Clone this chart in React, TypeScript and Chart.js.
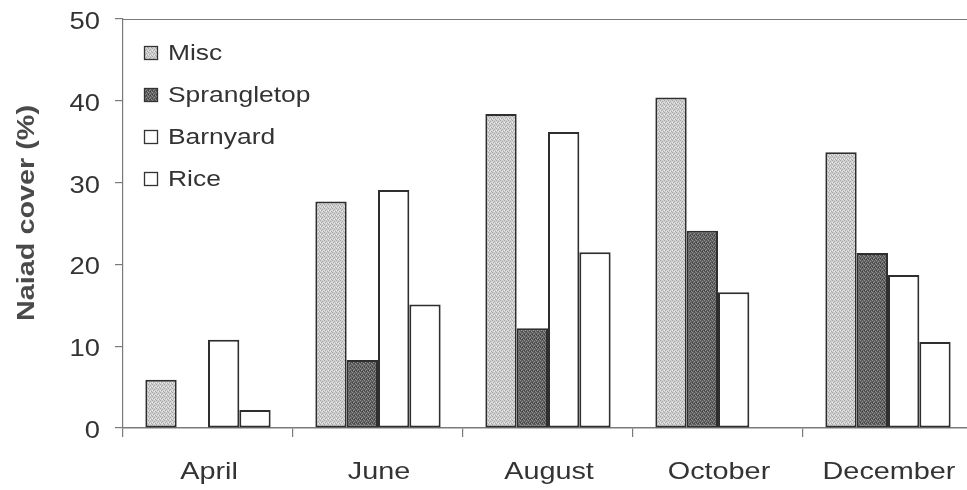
import React, { useEffect, useRef } from "react";
import { Chart, registerables } from "chart.js";

Chart.register(...registerables);

const categories = ["April", "June", "August", "October", "December"];
const seriesNames = ["Misc", "Sprangletop", "Barnyard", "Rice"];
const miscValues = [5.9, 27.7, 38.4, 40.4, 33.7];
const sprangletopValues = [null, 8.3, 12.2, 24.1, 21.4];
const barnyardValues = [10.8, 29.1, 36.2, 16.6, 18.7];
const riceValues = [2.2, 15.1, 21.5, null, 10.5];
const yTicks = [0, 10, 20, 30, 40, 50];
const yTitle = "Naiad cover (%)";

const FONT = "'Liberation Sans', Arial, sans-serif";
const STRETCH = 1.2;
const CANVAS_W = 975;

function makePattern(base: string, speck: string, speck2: string): CanvasPattern | string {
  const c = document.createElement("canvas");
  c.width = 4;
  c.height = 4;
  const g = c.getContext("2d");
  if (!g) return base;
  g.fillStyle = base;
  g.fillRect(0, 0, 4, 4);
  g.fillStyle = speck;
  const pts1 = [[0, 0], [2, 1], [1, 2], [3, 3]];
  pts1.forEach(([x, y]) => g.fillRect(x, y, 1, 1));
  g.fillStyle = speck2;
  const pts2 = [[2, 3], [0, 2]];
  pts2.forEach(([x, y]) => g.fillRect(x, y, 1, 1));
  const p = g.createPattern(c, "repeat");
  return p || base;
}

function wideText(
  ctx: CanvasRenderingContext2D,
  text: string,
  x: number,
  y: number,
  align: CanvasTextAlign,
  sx: number
) {
  ctx.save();
  ctx.translate(x, y);
  ctx.scale(sx, 1);
  ctx.textAlign = align;
  ctx.fillText(text, 0, 0);
  ctx.restore();
}

export default function App() {
  const ref = useRef<HTMLCanvasElement | null>(null);

  useEffect(() => {
    const canvas = ref.current;
    if (!canvas) return;
    const lightFill = makePattern("#d0d0d0", "#a6a6a6", "#ececec");
    const darkFill = makePattern("#5e5e5e", "#8f8f8f", "#404040");
    const fills = [lightFill, darkFill, "#ffffff", "#ffffff"];
    const values = [miscValues, sprangletopValues, barnyardValues, riceValues];

    const decor = {
      id: "decor",
      afterDraw(chart: any) {
        const ctx = chart.ctx as CanvasRenderingContext2D;
        const area = chart.chartArea;
        const xs = chart.scales.x;
        const ys = chart.scales.y;
        ctx.save();
        // top frame line
        ctx.strokeStyle = "#7a7a7a";
        ctx.lineWidth = 1.2;
        ctx.beginPath();
        ctx.moveTo(area.left, area.top + 0.5);
        ctx.lineTo(area.right, area.top + 0.5);
        ctx.stroke();

        // y tick labels
        ctx.fillStyle = "#333";
        ctx.font = `24px ${FONT}`;
        ctx.textBaseline = "alphabetic";
        ys.ticks.forEach((t: any) => {
          const py = ys.getPixelForValue(t.value);
          wideText(ctx, String(t.label), area.left - 23, py + 10, "right", 1.14);
        });

        // x tick labels
        xs.ticks.forEach((t: any, i: number) => {
          const px = xs.getPixelForTick(i);
          wideText(ctx, String(t.label), px + 1, area.bottom + 51, "center", STRETCH);
        });

        // legend
        ctx.font = `22px ${FONT}`;
        chart.data.datasets.forEach((ds: any, i: number) => {
          const bx = area.left + 21;
          const by = area.top + 27 + i * 42;
          ctx.fillStyle = fills[i] as any;
          ctx.fillRect(bx, by, 14, 14);
          ctx.strokeStyle = "#333";
          ctx.lineWidth = 1.3;
          ctx.strokeRect(bx + 0.5, by + 0.5, 13, 13);
          ctx.fillStyle = "#333";
          wideText(ctx, ds.label, bx + 24, by + 14, "left", STRETCH);
        });

        // y title
        ctx.font = `bold 24px ${FONT}`;
        ctx.fillStyle = "#4a4a4a";
        ctx.textAlign = "center";
        ctx.textBaseline = "middle";
        ctx.translate(27, 213);
        ctx.rotate(-Math.PI / 2);
        ctx.scale(STRETCH, 1);
        ctx.fillText(yTitle, 0, 0);
        ctx.restore();
      },
    };

    const chart = new Chart(canvas, {
      type: "bar",
      data: {
        labels: categories,
        datasets: seriesNames.map((name, i) => ({
          label: name,
          data: values[i] as any,
          backgroundColor: fills[i] as any,
          borderColor: "#2e2e2e",
          borderWidth: 2,
          borderSkipped: false,
          barPercentage: 1,
          categoryPercentage: 0.737,
        })),
      },
      options: {
        responsive: false,
        animation: false,
        layout: { padding: { top: 19, right: 2, left: 0, bottom: 0 } },
        plugins: {
          legend: { display: false },
          tooltip: { enabled: false },
          title: { display: false },
        },
        scales: {
          x: {
            offset: true,
            grid: {
              offset: true,
              drawOnChartArea: false,
              drawTicks: true,
              tickLength: 9,
              color: "#7a7a7a",
              lineWidth: 1.2,
            },
            border: { display: true, color: "#7a7a7a", width: 1.5 },
            ticks: { display: false, autoSkip: false, maxRotation: 0 },
            afterFit(scale: any) {
              scale.height = 62;
            },
          },
          y: {
            min: 0,
            max: 50,
            afterBuildTicks(scale: any) {
              scale.ticks = yTicks.map((v) => ({ value: v }));
            },
            grid: {
              drawOnChartArea: false,
              drawTicks: true,
              tickLength: 8,
              color: "#7a7a7a",
              lineWidth: 1.2,
            },
            border: { display: true, color: "#7a7a7a", width: 1.2 },
            ticks: { display: false },
            afterFit(scale: any) {
              scale.width = 123;
            },
          },
        },
      },
      plugins: [decor],
    });
    return () => chart.destroy();
  }, []);

  return (
    <div
      style={{
        position: "absolute",
        left: 0,
        top: 0,
        width: 967,
        height: 490,
        overflow: "hidden",
        background: "#fff",
      }}
    >
      <canvas ref={ref} width={CANVAS_W} height={490} style={{ display: "block" }} />
    </div>
  );
}
